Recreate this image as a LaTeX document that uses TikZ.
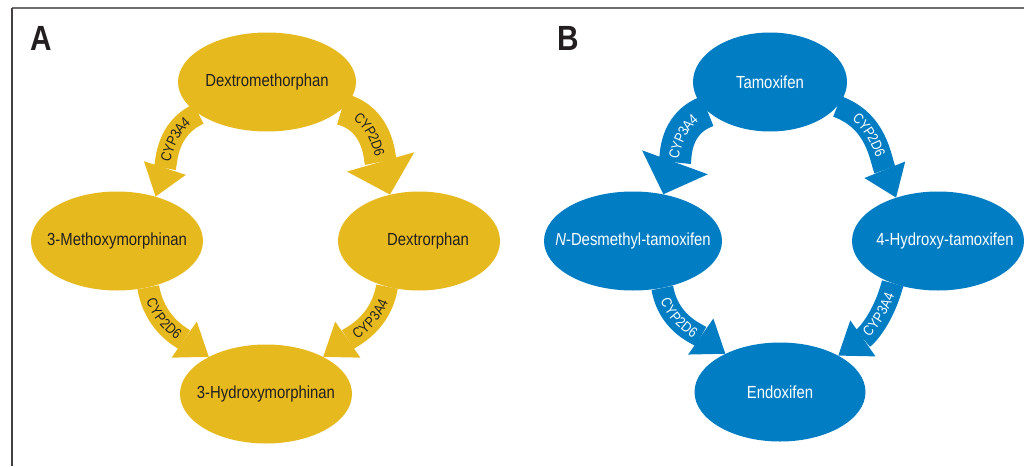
\documentclass[tikz,border=0pt]{standalone}
\usepackage{fontspec}
\setmainfont{Liberation Sans}[FakeStretch=0.85]
\usepackage{tikz}
\usetikzlibrary{shapes.geometric,arrows.meta,decorations.text}
\definecolor{dmgold}{HTML}{E6BA1F}
\definecolor{tamblue}{HTML}{007DC3}
\definecolor{inkdark}{HTML}{231F20}
\definecolor{framegray}{HTML}{6E6E6E}
\newcommand\stagefont{\fontsize{17.5}{21}\selectfont}
\newcommand\enzfont{\fontsize{14.5}{16}\selectfont}
\newcommand\panelfont{\fontsize{35}{40}\selectfont\bfseries}
\tikzset{
  stage/.style={ellipse, inner sep=0pt, minimum height=99pt, minimum width=#1},
  minor/.style={line width=22pt, -{Triangle[width=44pt,length=30pt,line width=0pt]}},
  minor back/.style={line width=22pt, {Triangle[width=44pt,length=30pt,line width=0pt]}-},
  major/.style={line width=32pt, -{Triangle[width=70pt,length=34pt,line width=0pt]}},
  major back/.style={line width=32pt, {Triangle[width=70pt,length=34pt,line width=0pt]}-},
  enzyme/.style 2 args={postaction={decorate, decoration={text along path,
      text={|\enzfont\color{#1}|#2}, text align={center, right indent=24pt}, raise=-5.2pt}}},
  enzyme back/.style 2 args={postaction={decorate, decoration={text along path,
      text={|\enzfont\color{#1}|#2}, text align={center, left indent=24pt}, raise=-5.2pt}}},
  stagename/.style={font=\stagefont, text=#1, inner sep=0pt},
  panel/.style={font=\panelfont, text=inkdark, inner sep=0pt}
}

\begin{document}
\begin{tikzpicture}[x=1pt, y=1pt]
  \useasboundingbox (0,0) rectangle (1024,-466);
  % frame
  \coordinate (corner) at (12,-8);
  \coordinate (topend) at (1024,-8);
  \coordinate (leftend) at (12,-466);
  \draw[framegray, line width=2pt] (corner) -- (topend);
  \draw[inkdark!85, line width=1.2pt] (corner) -- (leftend);

  % vertices A
  \node[stage=178pt, fill=dmgold] (dxm) at (267,-82) {};
  \node[stage=172pt, fill=dmgold] (mxm) at (117,-241) {};
  \node[stage=162pt, fill=dmgold] (dxo) at (419,-241) {};
  \node[stage=172pt, fill=dmgold] (hxm) at (266,-394) {};
  % vertices B
  \node[stage=154pt, fill=tamblue] (tam) at (770,-82) {};
  \node[stage=178pt, fill=tamblue] (ndt) at (633,-241) {};
  \node[stage=172pt, fill=tamblue] (oht) at (938,-241) {};
  \node[stage=171pt, fill=tamblue] (endx) at (780,-392) {};

  % pathways A
  \draw[minor back, dmgold, enzyme back={inkdark}{CYP3A4}] (mxm.49) to[out=72, in=205] (dxm.205);
  \draw[major, dmgold, enzyme={inkdark}{CYP2D6}] (dxm.340) to[out=-15, in=106] (dxo.122);
  \draw[minor, dmgold, enzyme={inkdark}{CYP2D6}] (mxm.-56) to[out=-80, in=145] (hxm.147);
  \draw[minor back, dmgold, enzyme back={inkdark}{CYP3A4}] (hxm.33) to[out=35, in=260] (dxo.235);
  % pathways B
  \draw[major back, tamblue, enzyme back={white}{CYP3A4}] (ndt.57) to[out=70, in=200] (tam.205);
  \draw[minor, tamblue, enzyme={white}{CYP2D6}] (tam.-20) to[out=-20, in=112] (oht.134);
  \draw[minor, tamblue, enzyme={white}{CYP2D6}] (ndt.-58) to[out=-80, in=145] (endx.145);
  \draw[minor back, tamblue, enzyme back={white}{CYP3A4}] (endx.32) to[out=35, in=255] (oht.223);

  % labels
  \node[panel] (pa) at (41,-38) {A};
  \node[panel] (pb) at (568,-38) {B};
  \node[stagename=inkdark] (dxm-t) at (dxm) {Dextromethorphan};
  \node[stagename=inkdark] (mxm-t) at (mxm) {3-Methoxymorphinan};
  \node[stagename=inkdark] (dxo-t) at ([xshift=9pt]dxo.center) {Dextrorphan};
  \node[stagename=inkdark] (hxm-t) at (hxm) {3-Hydroxymorphinan};
  \node[stagename=white] (tam-t) at (tam) {Tamoxifen};
  \node[stagename=white] (ndt-t) at (ndt) {\textit{N}-Desmethyl-tamoxifen};
  \node[stagename=white] (oht-t) at ([xshift=7pt]oht.center) {4-Hydroxy-tamoxifen};
  \node[stagename=white] (endx-t) at (endx) {Endoxifen};
\end{tikzpicture}
\end{document}
